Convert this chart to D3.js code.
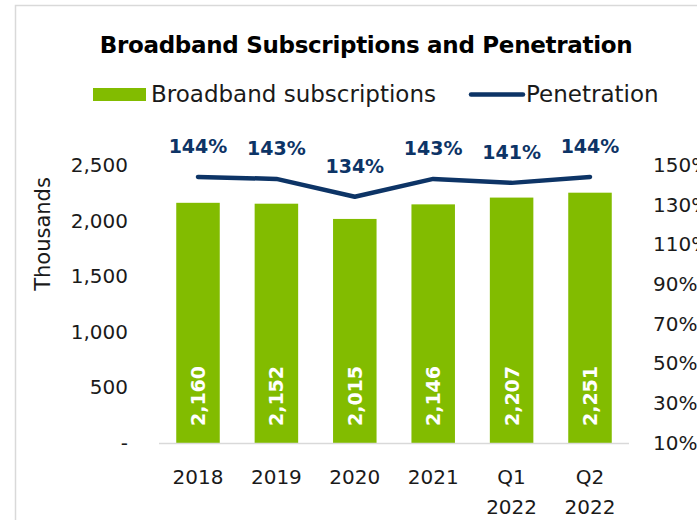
<!DOCTYPE html>
<html>
<head>
<meta charset="utf-8">
<script src="https://cdn.jsdelivr.net/npm/d3@7"></script>
<style>
  html, body { margin: 0; padding: 0; background: #fff; }
  svg { display: block; font-family: "DejaVu Sans", sans-serif; }
</style>
</head>
<body>
<svg id="chart" width="697" height="520"></svg>
<script>
// Broadband subscriptions (thousands) and penetration rate by period
const categories = ["2018", "2019", "2020", "2021", "Q1 2022", "Q2 2022"];
const subscriptions = [2160, 2152, 2015, 2146, 2207, 2251];
const penetration = [1.44, 1.43, 1.34, 1.43, 1.41, 1.44];
const leftTicks = [0, 500, 1000, 1500, 2000, 2500];
const rightTicks = [0.10, 0.30, 0.50, 0.70, 0.90, 1.10, 1.30, 1.50];

const GREEN = "#82bc00";
const NAVY = "#0d3466";
const TEXT = "#1a1a1a";

const svg = d3.select("#chart");

// Outer frame
svg.append("rect")
  .attr("x", 15.5).attr("y", 5.5)
  .attr("width", 720).attr("height", 540)
  .attr("fill", "none").attr("stroke", "#d9d9d9").attr("stroke-width", 1.5);

const plot = { left: 159, right: 629, top: 165, bottom: 443 };

const x = d3.scaleBand()
  .domain(categories)
  .range([plot.left, plot.right])
  .paddingInner(0.445)
  .paddingOuter(0.22);

const yL = d3.scaleLinear().domain([0, 2500]).range([plot.bottom, plot.top]);
const yR = d3.scaleLinear().domain([0.10, 1.50]).range([plot.bottom, plot.top]);

// Title
svg.append("text")
  .attr("x", 366).attr("y", 53)
  .attr("text-anchor", "middle")
  .attr("font-weight", "bold")
  .attr("font-size", 23)
  .attr("letter-spacing", -0.3)
  .attr("fill", "#000")
  .text("Broadband Subscriptions and Penetration");

// Legend
const legend = svg.append("g");
legend.append("rect")
  .attr("x", 93).attr("y", 88).attr("width", 53).attr("height", 13)
  .attr("fill", GREEN);
legend.append("text")
  .attr("x", 151).attr("y", 101.5)
  .attr("font-size", 23).attr("fill", TEXT)
  .text("Broadband subscriptions");
legend.append("line")
  .attr("x1", 471).attr("x2", 523).attr("y1", 94.5).attr("y2", 94.5)
  .attr("stroke", NAVY).attr("stroke-width", 4.5).attr("stroke-linecap", "round");
legend.append("text")
  .attr("x", 526).attr("y", 101.5)
  .attr("font-size", 23).attr("fill", TEXT)
  .text("Penetration");

// Left axis
const axisL = svg.append("g")
  .attr("transform", `translate(${136},0)`)
  .call(d3.axisLeft(yL).tickValues(leftTicks).tickSize(0).tickPadding(8)
    .tickFormat(d => d === 0 ? "-" : d3.format(",")(d)));
axisL.select(".domain").remove();
axisL.selectAll("text").attr("font-size", 20).attr("fill", TEXT)
  .attr("font-family", "DejaVu Sans, sans-serif");

// Right axis
const axisR = svg.append("g")
  .attr("transform", `translate(${645},0)`)
  .call(d3.axisRight(yR).tickValues(rightTicks).tickSize(0).tickPadding(8)
    .tickFormat(d3.format(".0%")));
axisR.select(".domain").remove();
axisR.selectAll("text").attr("font-size", 20).attr("fill", TEXT)
  .attr("font-family", "DejaVu Sans, sans-serif");

// Y axis title
svg.append("text")
  .attr("transform", `translate(50,234) rotate(-90)`)
  .attr("text-anchor", "middle")
  .attr("font-size", 21).attr("fill", TEXT)
  .text("Thousands");

// Bars
svg.append("g").selectAll("rect")
  .data(subscriptions)
  .join("rect")
  .attr("x", (d, i) => x(categories[i]))
  .attr("width", x.bandwidth())
  .attr("y", d => yL(d))
  .attr("height", d => yL(0) - yL(d))
  .attr("fill", GREEN);

// Baseline
svg.append("line")
  .attr("x1", plot.left).attr("x2", plot.right)
  .attr("y1", plot.bottom + 0.5).attr("y2", plot.bottom + 0.5)
  .attr("stroke", "#d9d9d9").attr("stroke-width", 1.5);

// Category axis (two-line labels)
const axisB = svg.append("g")
  .attr("transform", `translate(0,${plot.bottom})`)
  .call(d3.axisBottom(x).tickSize(0).tickPadding(0));
axisB.select(".domain").remove();
axisB.selectAll("text")
  .attr("font-size", 20).attr("fill", TEXT)
  .attr("font-family", "DejaVu Sans, sans-serif")
  .attr("dy", null)
  .each(function(d) {
    const parts = d.split(" ");
    const t = d3.select(this).text(null).attr("y", 0);
    parts.forEach((p, i) => {
      t.append("tspan").attr("x", 0).attr("y", 41 + i * 30).text(p);
    });
  });

// Value labels inside bars
svg.append("g").selectAll("text")
  .data(subscriptions)
  .join("text")
  .attr("transform", (d, i) => `translate(${x(categories[i]) + x.bandwidth() / 2 + 7},${396}) rotate(-90)`)
  .attr("text-anchor", "middle")
  .attr("font-size", 19).attr("font-weight", "bold")
  .attr("fill", "#fff")
  .text(d => d3.format(",")(d));

// Penetration line
const cx = (d, i) => x(categories[i]) + x.bandwidth() / 2;
svg.append("path")
  .datum(penetration)
  .attr("d", d3.line().x(cx).y(d => yR(d)))
  .attr("fill", "none")
  .attr("stroke", NAVY).attr("stroke-width", 4.5)
  .attr("stroke-linecap", "round").attr("stroke-linejoin", "round");

// Penetration labels
svg.append("g").selectAll("text")
  .data(penetration)
  .join("text")
  .attr("x", cx)
  .attr("y", d => yR(d) - 24)
  .attr("text-anchor", "middle")
  .attr("font-size", 19).attr("font-weight", "bold")
  .attr("fill", NAVY)
  .text(d => d3.format(".0%")(d));
</script>
</body>
</html>
